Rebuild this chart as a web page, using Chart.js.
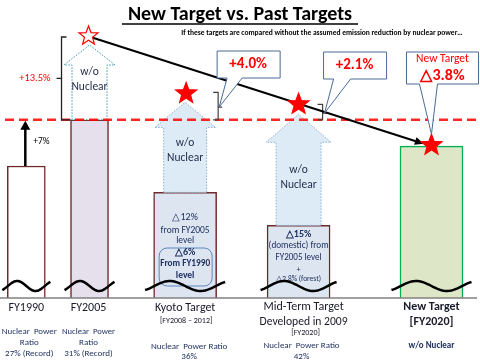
<!DOCTYPE html>
<html>
<head>
<meta charset="utf-8">
<script src="https://cdn.jsdelivr.net/npm/chart.js@4.4.1/dist/chart.umd.min.js"></script>
<style>
html, body { margin: 0; padding: 0; background: #fff; }
canvas { display: block; }
</style>
</head>
<body>
<canvas id="myChart" width="480" height="360"></canvas>
<script>
// emission index, FY1990 = 100 (axis is broken below 80)
var categories = ['FY1990', 'FY2005', 'Kyoto Target', 'Mid-Term Target', 'New Target'];
var emissions = [100, 107, 96, 91, 103];
// level if the assumed reduction by nuclear power is taken out
var withoutNuclear = [null, 119.7, 111, 109.2, null];
var gapLabels = [null, '+13.5%', '+4.0%', '+2.1%', '\u25B33.8%'];
var riseLabel = '+7%';
var subLabels = [[], [], ['[FY2008 \u2013 2012]'], ['Developed in 2009', '[FY2020]'], ['[FY2020]']];
var nuclearRatio = [
    ['Nuclear  Power', 'Ratio', '27% (Record)'],
    ['Nuclear  Power', 'Ratio', '31% (Record)'],
    ['Nuclear  Power Ratio', '36%'],
    ['Nuclear  Power Ratio', '42%'],
    ['w/o Nuclear']
];
var kyotoNotes = ['\u25B312%', 'from FY2005', 'level'];
var kyotoNotes90 = ['\u25B36%', 'From FY1990', 'level'];
var midNotes = ['\u25B315%', '(domestic) from', 'FY2005 level', '+', '\u25B32.8% (forest)'];

var FONT = 'Carlito, Lato, "Liberation Sans", sans-serif';
var slot = [1.5, 5.4, 11.3, 18.3, 26.5];
var narrow = [0, 1];
var wide = [2, 3, 4];
var fills = ['#ffffff', '#e6e0ec', '#dde5f1', '#dde5f1', '#dde6c6'];
var borders = ['#6e2a2a', '#6e2a2a', '#6e2a2a', '#6e2a2a', '#00b050'];

function text(ctx, s, x, y, size, color, bold, maxW, align) {
    ctx.font = (bold ? 'bold ' : '') + size + 'px ' + FONT;
    ctx.fillStyle = color;
    ctx.textAlign = align || 'center';
    ctx.textBaseline = 'middle';
    if (maxW) ctx.fillText(s, x, y, maxW); else ctx.fillText(s, x, y);
}

function star(ctx, cx, cy, R, fill) {
    ctx.beginPath();
    for (var i = 0; i < 10; i++) {
        var a = -Math.PI / 2 + i * Math.PI / 5;
        var r = i % 2 ? R * 0.42 : R;
        ctx.lineTo(cx + r * Math.cos(a), cy + r * Math.sin(a));
    }
    ctx.closePath();
    ctx.fillStyle = fill;
    ctx.fill();
    ctx.strokeStyle = '#ff0000';
    ctx.lineWidth = 1.2;
    ctx.stroke();
}

function callout(ctx, x0, y0, x1, y1, ta, tb, tx, ty) {
    ctx.beginPath();
    ctx.moveTo(x0, y0);
    ctx.lineTo(x1, y0);
    ctx.lineTo(x1, y1);
    ctx.lineTo(tb, y1);
    ctx.lineTo(tx, ty);
    ctx.lineTo(ta, y1);
    ctx.lineTo(x0, y1);
    ctx.closePath();
    ctx.fillStyle = '#ffffff';
    ctx.fill();
    ctx.strokeStyle = '#4a6a96';
    ctx.lineWidth = 1;
    ctx.stroke();
}

function wave(ctx, x0, x1, yc) {
    ctx.beginPath();
    var w = x1 - x0;
    for (var k = 0; k <= 40; k++) {
        var t = -0.15 + 1.3 * k / 40;
        ctx.lineTo(x0 + w * k / 40, yc - 5 * Math.sin(2 * Math.PI * t));
    }
    ctx.strokeStyle = '#000';
    ctx.lineWidth = 2.5;
    ctx.stroke();
}

function arrowHead(ctx, x0, y0, x1, y1, len, half) {
    var a = Math.atan2(y1 - y0, x1 - x0);
    ctx.beginPath();
    ctx.moveTo(x1, y1);
    ctx.lineTo(x1 - len * Math.cos(a) + half * Math.sin(a), y1 - len * Math.sin(a) - half * Math.cos(a));
    ctx.lineTo(x1 - len * Math.cos(a) - half * Math.sin(a), y1 - len * Math.sin(a) + half * Math.cos(a));
    ctx.closePath();
    ctx.fill();
}

var overlay = {
    id: 'overlay',
    afterDatasetsDraw: function (chart) {
        var ctx = chart.ctx;
        var xs = chart.scales.x, ys = chart.scales.y;
        var px = function (i) { return xs.getPixelForValue(slot[i]); };
        var py = function (v) { return ys.getPixelForValue(v); };
        var base = py(emissions[1]);
        ctx.save();

        // w/o nuclear arrows
        var shaft = [0, 17.5, 21.5, 22.5], head = [0, 25.5, 30.5, 32.5], hh = [0, 20, 25, 28], txtUp = [0, 33, 34, 40];
        for (var i = 1; i <= 3; i++) {
            var cx = px(i), bot = py(emissions[i]), tip = py(withoutNuclear[i]) + 9, sh = tip + hh[i];
            ctx.beginPath();
            ctx.moveTo(cx - shaft[i], bot);
            ctx.lineTo(cx - shaft[i], sh);
            ctx.lineTo(cx - head[i], sh);
            ctx.lineTo(cx, tip);
            ctx.lineTo(cx + head[i], sh);
            ctx.lineTo(cx + shaft[i], sh);
            ctx.lineTo(cx + shaft[i], bot);
            ctx.closePath();
            ctx.fillStyle = i === 1 ? '#ffffff' : '#dcebf5';
            ctx.fill();
            ctx.setLineDash([1.5, 1.5]);
            ctx.strokeStyle = i === 1 ? '#3f95b0' : '#8fb0d4';
            ctx.lineWidth = 1;
            ctx.stroke();
            ctx.setLineDash([]);
            text(ctx, 'w/o', cx, bot - txtUp[i] - 15, 11.5, '#1f2a4a');
            text(ctx, 'Nuclear', cx, bot - txtUp[i], 11.5, '#1f2a4a');
        }

        // FY2005 level
        ctx.setLineDash([9, 5]);
        ctx.strokeStyle = 'rgba(255,0,0,0.85)';
        ctx.lineWidth = 2.5;
        ctx.beginPath();
        ctx.moveTo(5, base);
        ctx.lineTo(chart.chartArea.right + 5, base);
        ctx.stroke();
        ctx.setLineDash([]);

        // FY1990 -> FY2005 rise
        ctx.strokeStyle = '#000';
        ctx.fillStyle = '#000';
        ctx.lineWidth = 2.5;
        var x0 = px(0) - 1;
        ctx.beginPath();
        ctx.moveTo(x0, py(emissions[0]));
        ctx.lineTo(x0, base + 8);
        ctx.stroke();
        arrowHead(ctx, x0, base + 20, x0, base + 1, 9, 5);
        text(ctx, riseLabel, px(0) + 7, py(103.7), 9.5, '#000', false, null, 'left');

        // FY2005 bracket
        var bx = px(1) - 28, bt = py(withoutNuclear[1]) + 1;
        ctx.lineWidth = 1.3;
        ctx.strokeStyle = '#222';
        ctx.beginPath();
        ctx.moveTo(bx + 5, bt);
        ctx.lineTo(bx, bt);
        ctx.lineTo(bx, base);
        ctx.lineTo(bx + 9, base);
        ctx.moveTo(bx, (bt + base) / 2);
        ctx.lineTo(bx - 5, (bt + base) / 2);
        ctx.stroke();
        text(ctx, gapLabels[1], bx - 11, (bt + base) / 2, 10.5, '#ff0000', false, 37, 'right');

        // brackets Kyoto / Mid-Term
        var brx = [0, 0, 28, 19];
        var tipPts = [];
        for (var j = 2; j <= 3; j++) {
            var l = px(j) + brx[j], t = py(withoutNuclear[j]) - 1, m = (t + base) / 2 + 1;
            ctx.strokeStyle = '#404040';
            ctx.lineWidth = 1.2;
            ctx.beginPath();
            ctx.moveTo(l, t);
            ctx.lineTo(l + 5, t);
            ctx.lineTo(l + 5, base);
            ctx.lineTo(l, base);
            ctx.moveTo(l + 5, m);
            ctx.lineTo(l + 9, m);
            ctx.stroke();
            tipPts[j] = [l + 9, m];
        }

        // trend line from FY2005 w/o nuclear to new target
        var sx = px(1) + 1, sy = py(withoutNuclear[1]) + 1, ex = px(4), ey = py(emissions[4]);
        var d = Math.hypot(ex - sx, ey - sy), ux = (ex - sx) / d, uy = (ey - sy) / d;
        ctx.strokeStyle = '#000';
        ctx.fillStyle = '#000';
        ctx.lineWidth = 2;
        ctx.beginPath();
        ctx.moveTo(sx, sy);
        ctx.lineTo(ex - 14 * ux, ey - 14 * uy);
        ctx.stroke();
        arrowHead(ctx, sx, sy, ex - 8 * ux, ey - 8 * uy, 9, 4);

        // stars
        star(ctx, px(1) - 1, py(withoutNuclear[1]), 10, '#ffffff');
        star(ctx, px(2) + 1, py(withoutNuclear[2]), 11, '#ff0000');
        star(ctx, px(3), py(withoutNuclear[3]) - 1, 11, '#ff0000');
        star(ctx, px(4), ey - 1, 11, '#ff0000');

        // callouts
        var k = px(2);
        callout(ctx, k + 32, 51, k + 95, 78, k + 42, k + 57, tipPts[2][0] - 3, tipPts[2][1]);
        text(ctx, gapLabels[2], k + 63, 64, 15, '#ff0000', true, 52);
        var mm = px(3);
        callout(ctx, mm + 25, 52, mm + 88, 79, mm + 35, mm + 52, tipPts[3][0] - 2, tipPts[3][1]);
        text(ctx, gapLabels[3], mm + 56, 65, 15, '#ff0000', true, 52);
        var nn = px(4);
        callout(ctx, nn - 25, 52, nn + 47, 84, nn - 12, nn + 6, nn, ey - 12);
        text(ctx, 'New Target', nn + 11, 59, 11.5, '#ff0000', false, 58);
        text(ctx, gapLabels[4], nn + 11, 76, 16, '#ff0000', true, 50);

        // notes inside bars
        var navy = '#1f3260';
        text(ctx, kyotoNotes[0], k, 217, 10, navy, false, 34);
        text(ctx, kyotoNotes[1], k, 231, 9.5, navy, false, 50);
        text(ctx, kyotoNotes[2], k, 241, 9.5, navy);
        ctx.strokeStyle = '#5b86c0';
        ctx.lineWidth = 1;
        ctx.beginPath();
        ctx.roundRect(k - 26, 248, 53, 38, 8);
        ctx.stroke();
        text(ctx, kyotoNotes90[0], k, 252, 10, navy, true, 28);
        text(ctx, kyotoNotes90[1], k, 264, 9.5, navy, true, 50);
        text(ctx, kyotoNotes90[2], k, 276, 9.5, navy, true);
        text(ctx, midNotes[0], mm, 234, 10, navy, true, 32);
        text(ctx, midNotes[1], mm, 246, 9.5, navy, false, 60);
        text(ctx, midNotes[2], mm, 258, 9.5, navy, false, 46);
        text(ctx, midNotes[3], mm, 270, 8, navy);
        text(ctx, midNotes[4], mm, 279, 7.5, navy, false, 48);

        // axis break waves and axis line
        var half = [24, 25, 40, 38, 40];
        for (var w = 0; w < 5; w++) {
            wave(ctx, px(w) - half[w], px(w) + half[w], 286);
        }
        ctx.strokeStyle = '#808080';
        ctx.lineWidth = 1.5;
        ctx.beginPath();
        ctx.moveTo(0, chart.chartArea.bottom);
        ctx.lineTo(chart.chartArea.right + 5, chart.chartArea.bottom);
        ctx.stroke();

        // category labels
        var dark = '#1a1a2a';
        text(ctx, categories[0], px(0), 308, 12, dark, false, 37);
        text(ctx, categories[1], px(1) - 1, 308, 12, dark, false, 37);
        text(ctx, categories[2], px(2), 308, 12, dark, false, 64);
        text(ctx, subLabels[2][0], px(2) + 1, 321, 8, dark, false, 63);
        text(ctx, categories[3], px(3) + 5, 307, 12, dark, false, 82);
        text(ctx, subLabels[3][0], px(3) + 5, 322, 12, dark, false, 88);
        text(ctx, subLabels[3][1], px(3) + 7, 333, 8, dark, false, 32);
        text(ctx, categories[4], px(4), 307, 12, dark, true, 58);
        text(ctx, subLabels[4][0], px(4), 322, 12, dark, true, 44);

        var ratioY = [[332, 343, 354], [332, 343, 354], [347, 357], [346, 357], [346]];
        var ratioX = [3, -1, 4, 3, 0];
        var ratioW = [[55, null, 49], [53, null, 49], [84, null], [76, null], [46]];
        for (var r = 0; r < 5; r++) {
            for (var q = 0; q < nuclearRatio[r].length; q++) {
                text(ctx, nuclearRatio[r][q], px(r) + ratioX[r], ratioY[r][q], 9, '#1f3260', r === 4, ratioW[r][q]);
            }
        }

        // title
        text(ctx, 'New Target vs. Past Targets', 240, 15, 20, '#000', true, 236);
        ctx.strokeStyle = '#000';
        ctx.lineWidth = 1.5;
        ctx.beginPath();
        ctx.moveTo(122, 24);
        ctx.lineTo(358, 24);
        ctx.stroke();
        text(ctx, 'If these targets are compared without the assumed emission reduction by nuclear power\u2026', 322, 33, 7.5, '#000', true, 296);

        ctx.restore();
    }
};

var ctx = document.getElementById('myChart');
var chart = new Chart(ctx, {
    type: 'bar',
    data: {
        datasets: [{
            data: narrow.map(function (i) { return { x: slot[i], y: emissions[i] }; }),
            backgroundColor: narrow.map(function (i) { return fills[i]; }),
            borderColor: narrow.map(function (i) { return borders[i]; }),
            borderWidth: 1.5,
            barThickness: 38,
            grouped: false
        }, {
            data: wide.map(function (i) { return { x: slot[i], y: emissions[i] }; }),
            backgroundColor: wide.map(function (i) { return fills[i]; }),
            borderColor: wide.map(function (i) { return borders[i]; }),
            borderWidth: 1.5,
            barThickness: 63,
            grouped: false
        }]
    },
    options: {
        responsive: false,
        animation: false,
        layout: { padding: { left: 2, right: 8, top: 34, bottom: 62 } },
        plugins: {
            legend: { display: false },
            tooltip: { enabled: false }
        },
        scales: {
            x: { type: 'linear', min: 0, max: 29, offset: false, display: false },
            y: { min: 80, max: 120, display: false }
        }
    },
    plugins: [overlay]
});
</script>
</body>
</html>
